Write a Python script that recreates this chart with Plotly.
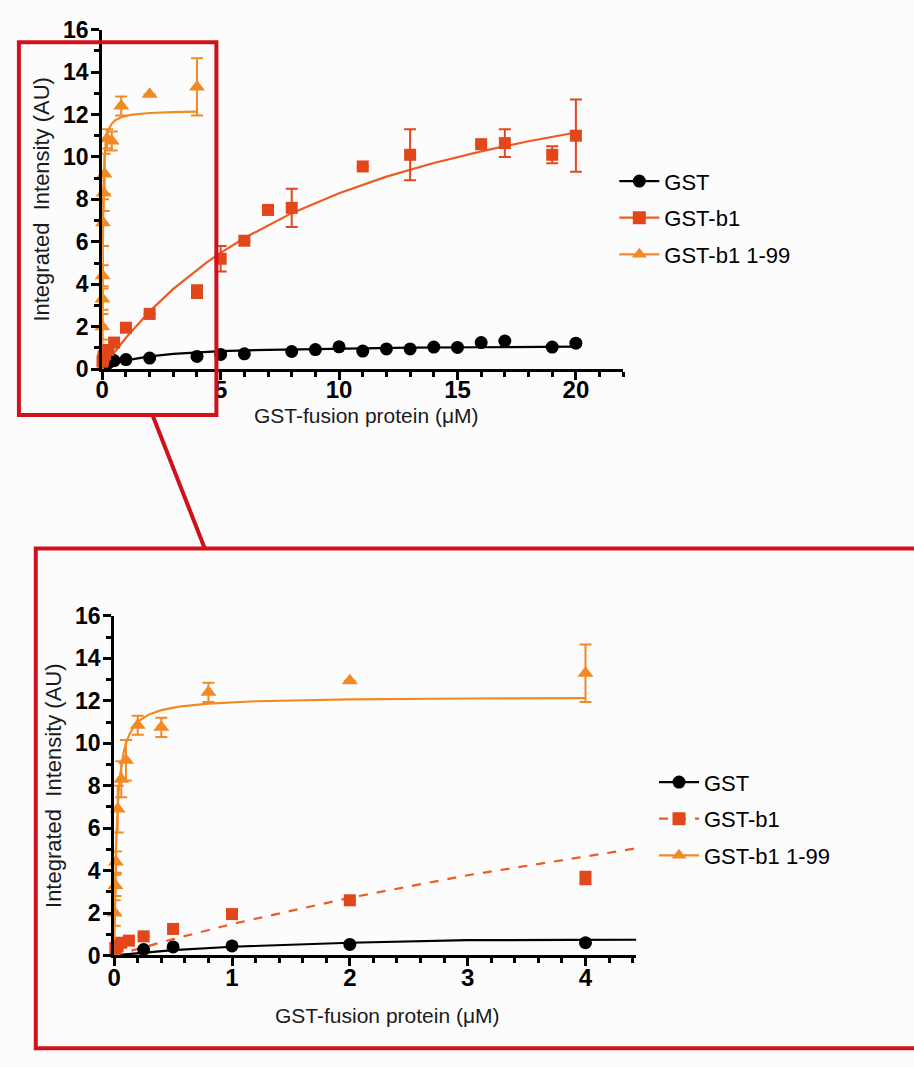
import plotly.graph_objects as go

W, H = 914, 1067

# ---------------- data ----------------
series_names = ["GST", "GST-b1", "GST-b1 1-99"]

gst_x = [0.25, 0.5, 1, 2, 4, 5, 6, 8, 9, 10, 11, 12, 13, 14, 15, 16, 17, 19, 20]
gst_y = [0.28, 0.40, 0.45, 0.52, 0.60, 0.69, 0.72, 0.83, 0.92, 1.05, 0.85, 0.95, 0.95,
         1.04, 1.02, 1.25, 1.32, 1.04, 1.22]

b1_x = [0.01, 0.03, 0.06, 0.125, 0.25, 0.5, 1, 2, 4, 5, 6, 7, 8, 11, 13, 16, 17, 19, 20]
b1_y = [0.35, 0.45, 0.6, 0.7, 0.9, 1.25, 1.95, 2.6, 3.65, 5.2, 6.05, 7.5, 7.6, 9.55,
        10.1, 10.6, 10.65, 10.1, 11.0]
b1_err = [0, 0, 0, 0, 0, 0, 0, 0, 0.3, 0.6, 0, 0, 0.9, 0, 1.2, 0, 0.65, 0.4, 1.7]

tri_x = [0.005, 0.01, 0.015, 0.03, 0.06, 0.1, 0.2, 0.4, 0.8, 2, 4]
tri_y = [2.0, 3.3, 4.4, 6.9, 8.3, 9.2, 10.85, 10.75, 12.4, 12.95, 13.3]
tri_err = [0.6, 0.5, 0.5, 1.1, 0.85, 0.95, 0.45, 0.45, 0.45, 0, 1.35]

# fitted curves
gst_fit_x = [0, 0.25, 0.5, 1, 1.5, 2, 3, 4, 4.4, 5, 7, 10, 13, 16, 20]
gst_fit_y = [0, 0.14, 0.25, 0.41, 0.52, 0.60, 0.72, 0.79, 0.82, 0.85, 0.91, 0.97, 1.01, 1.03, 1.06]

b1_fit_x = [0, 0.25, 0.5, 1, 2, 3, 4, 4.4, 5, 6, 8, 10, 12, 14, 16, 18, 20]
b1_fit_y = [0, 0.40, 0.77, 1.48, 2.72, 3.78, 4.69, 5.02, 5.48, 6.18, 7.35, 8.29, 9.07,
            9.71, 10.26, 10.74, 11.15]

tri_fit_x = [0, 0.0025, 0.005, 0.0075, 0.01, 0.015, 0.02, 0.03, 0.04, 0.05, 0.065, 0.08,
             0.1, 0.13, 0.17, 0.22, 0.3, 0.4, 0.55, 0.8, 1.2, 2, 3, 4]
tri_fit_y = [0, 1.25, 2.26, 3.10, 3.81, 4.95, 5.81, 7.04, 7.87, 8.47, 9.11, 9.57,
             10.0, 10.43, 10.80, 11.09, 11.37, 11.56, 11.73, 11.87, 11.98, 12.07, 12.11, 12.13]

x_title = "GST-fusion protein (\u03bcM)"
y_title = "Integrated\u00a0 Intensity (AU)"

# ---------------- style ----------------
C_GST = "#000000"
C_B1 = "#e2461b"
C_B1_LINE = "#ee5a22"
C_TRI = "#f18a25"
RED = "#d0101a"
BG = "#fdfcfd"
FONT = "Arial, Liberation Sans, sans-serif"

fig = go.Figure()


def add_panel(xa, ya, legend_name, b1_dash):
    # curves
    fig.add_trace(go.Scatter(x=gst_fit_x, y=gst_fit_y, mode="lines",
                             line=dict(color=C_GST, width=2.2), xaxis=xa, yaxis=ya,
                             showlegend=False, hoverinfo="skip"))
    fig.add_trace(go.Scatter(x=b1_fit_x, y=b1_fit_y, mode="lines",
                             line=dict(color=C_B1_LINE, width=2.2, dash=b1_dash),
                             xaxis=xa, yaxis=ya, showlegend=False, hoverinfo="skip"))
    fig.add_trace(go.Scatter(x=tri_fit_x, y=tri_fit_y, mode="lines",
                             line=dict(color=C_TRI, width=2.2), xaxis=xa, yaxis=ya,
                             showlegend=False, hoverinfo="skip"))
    # data
    fig.add_trace(go.Scatter(x=gst_x, y=gst_y, mode="markers", cliponaxis=False,
                             marker=dict(symbol="circle", size=13, color=C_GST),
                             xaxis=xa, yaxis=ya, showlegend=False, name=series_names[0]))
    fig.add_trace(go.Scatter(x=b1_x, y=b1_y, mode="markers", cliponaxis=False,
                             marker=dict(symbol="square", size=12, color=C_B1),
                             error_y=dict(type="data", array=b1_err, color=C_B1,
                                          thickness=2, width=6),
                             xaxis=xa, yaxis=ya, showlegend=False, name=series_names[1]))
    fig.add_trace(go.Scatter(x=tri_x, y=tri_y, mode="markers", cliponaxis=False,
                             marker=dict(symbol="triangle-up", size=14, color=C_TRI),
                             error_y=dict(type="data", array=tri_err, color=C_TRI,
                                          thickness=2, width=6),
                             xaxis=xa, yaxis=ya, showlegend=False, name=series_names[2]))
    # legend entries (line + marker)
    specs = [(C_GST, "circle", "solid", C_GST), (C_B1_LINE, "square", b1_dash, C_B1),
             (C_TRI, "triangle-up", "solid", C_TRI)]
    for i, (lc, sym, dash, mc) in enumerate(specs):
        fig.add_trace(go.Scatter(x=[None], y=[None], mode="lines+markers",
                                 name=series_names[i], legend=legend_name,
                                 legendgroup=legend_name + str(i),
                                 line=dict(color=lc, width=2.2, dash=dash),
                                 marker=dict(symbol=sym, size=13, color=mc),
                                 xaxis=xa, yaxis=ya))


add_panel("x", "y", "legend", "solid")
add_panel("x2", "y2", "legend2", "dash")


def px_x(p):
    return p / W


def px_y(p):
    return 1 - p / H


minor_y = dict(dtick=1, ticks="outside", ticklen=5, tickwidth=2.5, tickcolor="black")
axis_common = dict(showline=True, linecolor="black", linewidth=3, ticks="outside",
                   tickwidth=2.5, ticklen=8, tickcolor="black", showgrid=False,
                   zeroline=False)
xtickfont = dict(family=FONT, size=24, color="black", weight="bold")
ytickfont = dict(family=FONT, size=23, color="black", weight="bold")

title_font = dict(family=FONT, size=22, color="#1a1a1a")
xtitle_font = dict(family=FONT, size=21, color="#1a1a1a")

fig.update_layout(
    width=W, height=H, margin=dict(l=0, r=0, t=0, b=0),
    paper_bgcolor=BG, plot_bgcolor=BG,
    xaxis=dict(domain=[px_x(96), px_x(621)], range=[0, 22], anchor="y",
               tickmode="array", tickvals=[0, 5, 10, 15, 20],
               minor=dict(dtick=1, ticks="outside", ticklen=5, tickwidth=2.5, tickcolor="black"),
               tickfont=xtickfont, ticklabelstandoff=-11,
               **axis_common),
    yaxis=dict(domain=[px_y(365), px_y(17)], range=[0, 16], anchor="x", dtick=2,
               minor=minor_y, tickfont=ytickfont, ticklabelstandoff=-2,
               title=dict(text=y_title, font=title_font, standoff=8),
               **axis_common),
    xaxis2=dict(domain=[px_x(108), px_x(634)], range=[0, 4.43], anchor="y2", dtick=1,
                minor=dict(dtick=0.2, ticks="outside", ticklen=5, tickwidth=2.5, tickcolor="black"),
                tickfont=xtickfont, ticklabelstandoff=-9,
                **axis_common),
    yaxis2=dict(domain=[px_y(966), px_y(618)], range=[0, 16], anchor="x2", dtick=2,
                minor=minor_y, tickfont=ytickfont, ticklabelstandoff=-2,
                title=dict(text=y_title, font=title_font, standoff=8),
                **axis_common),
    legend=dict(x=px_x(612), y=px_y(151), xanchor="left", yanchor="top",
                font=dict(family=FONT, size=22, color="black"), bgcolor="rgba(0,0,0,0)",
                tracegroupgap=5, itemwidth=40),
    legend2=dict(x=px_x(652), y=px_y(767), xanchor="left", yanchor="top",
                 font=dict(family=FONT, size=22, color="black"), bgcolor="rgba(0,0,0,0)",
                 tracegroupgap=5, itemwidth=40),
    annotations=[
        dict(text=x_title, xref="paper", yref="paper", x=px_x(362), y=px_y(413),
             xanchor="center", yanchor="middle", showarrow=False, font=xtitle_font),
        dict(text=x_title, xref="paper", yref="paper", x=px_x(383), y=px_y(1028),
             xanchor="center", yanchor="middle", showarrow=False, font=xtitle_font),
    ],
    shapes=[
        dict(type="rect", xref="paper", yref="paper", x0=px_x(12), x1=px_x(211),
             y0=px_y(412), y1=px_y(30), line=dict(color=RED, width=4), layer="above"),
        dict(type="line", xref="paper", yref="paper", x0=px_x(147), y0=px_y(413),
             x1=px_x(199), y1=px_y(548), line=dict(color=RED, width=4), layer="above"),
        dict(type="rect", xref="paper", yref="paper", x0=px_x(29), x1=px_x(930),
             y0=px_y(1061), y1=px_y(549), line=dict(color=RED, width=4), layer="above"),
    ],
)

fig.write_html("out.html")
